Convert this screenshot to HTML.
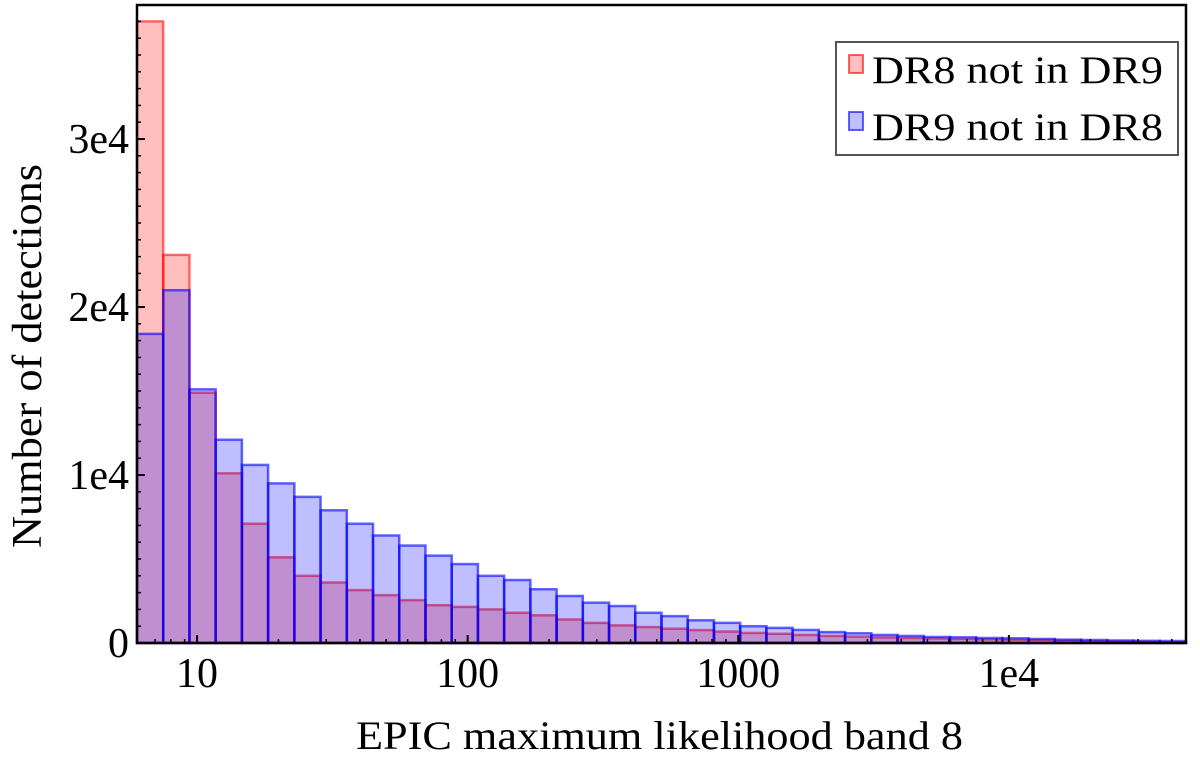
<!DOCTYPE html>
<html><head><meta charset="utf-8"><style>
body{margin:0;background:#fff;width:1200px;height:755px;overflow:hidden}
text{font-family:"Liberation Serif",serif;fill:#000}
</style></head><body>
<svg id="chart" width="1200" height="755" xmlns="http://www.w3.org/2000/svg">
<g id="bars"></g>
<g id="axes"></g>
<rect x="137" y="5" width="1049" height="638" fill="none" stroke="#000" stroke-width="2.5"/>
<g>
<rect x="836" y="42" width="342" height="113" fill="#fff" stroke="#555" stroke-width="2"/>
<rect x="849" y="55" width="14" height="18" fill="rgba(255,0,0,0.25)" stroke="rgba(255,0,0,0.6)" stroke-width="2"/>
<text x="872" y="83" font-size="39" textLength="291" lengthAdjust="spacingAndGlyphs">DR8 not in DR9</text>
<rect x="849" y="112" width="14" height="18" fill="rgba(0,0,255,0.25)" stroke="rgba(0,0,255,0.6)" stroke-width="2"/>
<text x="872" y="140" font-size="39" textLength="291" lengthAdjust="spacingAndGlyphs">DR9 not in DR8</text>
</g>
<text x="356" y="749" font-size="40" textLength="607" lengthAdjust="spacingAndGlyphs">EPIC maximum likelihood band 8</text>
<text transform="translate(41,356) rotate(-90)" font-size="42" text-anchor="middle" textLength="384" lengthAdjust="spacingAndGlyphs">Number of detections</text>
</svg>
<script>
const binStart = 6;
const binFactor = 1.25;
const dr8Counts = [37000,23100,14900,10100,7100,5100,4000,3600,3150,2850,2550,2250,2150,2000,1800,1650,1400,1200,1050,950,850,770,680,600,550,480,420,380,330,300,270,240,220,200,180,150,120,100,80,60];
const dr9Counts = [18400,21000,15100,12100,10600,9500,8700,7900,7100,6400,5800,5200,4700,4000,3750,3200,2800,2400,2200,1800,1600,1350,1200,1000,900,780,650,580,480,420,360,340,300,280,240,200,180,150,130,120];
const xTicks = [10,100,1000,10000];
const xTickLabels = ["10","100","1000","1e4"];
const yTicks = [0,10000,20000,30000];
const yTickLabels = ["0","1e4","2e4","3e4"];

const X0=137,X1=1186,Y0=643,Y1=5;
const xMin=6,xMax=6*Math.pow(1.25,40);
function xs(v){return X0+(Math.log10(v)-Math.log10(xMin))/(Math.log10(xMax)-Math.log10(xMin))*(X1-X0);}
function ys(v){return Y0-v/10000*168;}
const NS="http://www.w3.org/2000/svg";
const bars=document.getElementById('bars'), axes=document.getElementById('axes');
function mk(tag,attrs,parent){const e=document.createElementNS(NS,tag);for(const k in attrs)e.setAttribute(k,attrs[k]);parent.appendChild(e);return e;}
function drawSeries(arr,fill,stroke,name){
  arr.forEach((v,i)=>{
    const a=binStart*Math.pow(binFactor,i), b=a*binFactor;
    const x=xs(a), w=xs(b)-x, y=ys(v);
    const r=mk('rect',{x:x,y:y,width:w,height:Y0-y,fill:fill,stroke:stroke,'stroke-width':2.5},bars);
    
    
  });
}
drawSeries(dr8Counts,'rgba(255,0,0,0.25)','rgba(255,0,0,0.55)','dr8');
drawSeries(dr9Counts,'rgba(0,0,255,0.25)','rgba(0,0,255,0.6)','dr9');
xTicks.forEach((t,i)=>{
  const x=xs(t);
  mk('line',{x1:x,x2:x,y1:Y0,y2:Y0-8,stroke:'#000','stroke-width':2},axes);
  const tx=mk('text',{x:x,y:Y0+44,'font-size':42,'text-anchor':'middle'},axes);
  tx.textContent=xTickLabels[i];
  
  
});
for(let d=1;d<=10000;d*=10){for(let m=2;m<=9;m++){const v=d*m;if(v<xMin||v>xMax)continue;const x=xs(v);mk('line',{x1:x,x2:x,y1:Y0,y2:Y0-4,stroke:'#000','stroke-width':1.5},axes);}}
yTicks.forEach((t,i)=>{
  const y=ys(t);
  mk('line',{x1:X0,x2:X0+8,y1:y,y2:y,stroke:'#000','stroke-width':2},axes);
  const tx=mk('text',{x:X0-8,y:y+14,'font-size':42,'text-anchor':'end'},axes);
  tx.textContent=yTickLabels[i];
  
  
});
for(let v=1000;v<38000;v+=1000){if(v%10000===0)continue;const y=ys(v);mk('line',{x1:X0,x2:X0+4,y1:y,y2:y,stroke:'#000','stroke-width':1.5},axes);}
</script>
</body></html>
